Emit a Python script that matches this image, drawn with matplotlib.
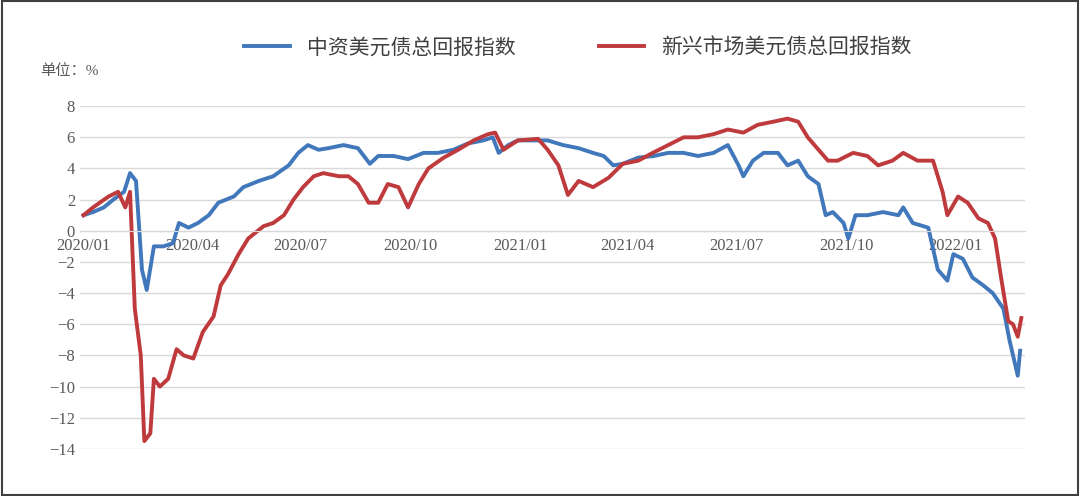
import matplotlib
matplotlib.use("Agg")
import matplotlib.pyplot as plt
import matplotlib.dates as mdates
import pandas as pd
from matplotlib.patches import Rectangle

plt.rcParams["font.family"] = ["Liberation Serif", "Noto Sans CJK SC", "DejaVu Sans"]

base = pd.Timestamp("2020-01-01")

# days since 2020-01-01, index value (%)
cn_days = [0, 8, 17, 25, 34, 39, 44, 49, 53, 59, 67, 75, 80, 88, 96, 105, 113, 126, 134, 147,
           159, 172, 180, 188, 197, 205, 218, 230, 240, 247, 260, 272, 285, 297, 310, 322, 335,
           343, 348, 356, 364, 377, 389, 402, 415, 427, 436, 444, 452, 465, 478, 490, 503, 515,
           528, 540, 549, 553, 561, 570, 582, 590, 599, 607, 616, 622, 628, 637, 641, 647, 657,
           670, 683, 687, 695, 708, 716, 724, 729, 737, 745, 754, 762, 771, 776, 783, 785]
cn_vals = [1.0, 1.2, 1.5, 2.0, 2.5, 3.7, 3.2, -2.5, -3.8, -1.0, -1.0, -0.8, 0.5, 0.2, 0.5, 1.0,
           1.8, 2.2, 2.8, 3.2, 3.5, 4.2, 5.0, 5.5, 5.2, 5.3, 5.5, 5.3, 4.3, 4.8, 4.8, 4.6, 5.0,
           5.0, 5.2, 5.6, 5.8, 6.0, 5.0, 5.5, 5.8, 5.8, 5.8, 5.5, 5.3, 5.0, 4.8, 4.2, 4.3, 4.7,
           4.8, 5.0, 5.0, 4.8, 5.0, 5.5, 4.2, 3.5, 4.5, 5.0, 5.0, 4.2, 4.5, 3.5, 3.0, 1.0, 1.2,
           0.5, -0.5, 1.0, 1.0, 1.2, 1.0, 1.5, 0.5, 0.2, -2.5, -3.2, -1.5, -1.8, -3.0, -3.5,
           -4.0, -5.0, -7.0, -9.3, -7.7]

em_days = [0, 8, 21, 29, 35, 39, 43, 48, 51, 56, 59, 64, 71, 78, 84, 92, 100, 109, 115, 121,
           130, 138, 151, 159, 168, 176, 184, 193, 201, 214, 222, 230, 239, 247, 255, 264, 272,
           281, 289, 302, 314, 327, 339, 345, 352, 364, 381, 389, 398, 406, 415, 427, 440, 452,
           465, 477, 490, 503, 515, 528, 540, 553, 565, 578, 590, 599, 607, 616, 624, 632, 645,
           657, 666, 678, 687, 699, 712, 720, 724, 733, 741, 750, 758, 764, 769, 775, 779, 783, 786]
em_vals = [1.0, 1.5, 2.2, 2.5, 1.5, 2.5, -5.0, -8.0, -13.5, -13.0, -9.5, -10.0, -9.5, -7.6,
           -8.0, -8.2, -6.5, -5.5, -3.5, -2.8, -1.5, -0.5, 0.3, 0.5, 1.0, 2.0, 2.8, 3.5, 3.7,
           3.5, 3.5, 3.0, 1.8, 1.8, 3.0, 2.8, 1.5, 3.0, 4.0, 4.7, 5.2, 5.8, 6.2, 6.3, 5.2, 5.8,
           5.9, 5.2, 4.2, 2.3, 3.2, 2.8, 3.4, 4.3, 4.5, 5.0, 5.5, 6.0, 6.0, 6.2, 6.5, 6.3, 6.8,
           7.0, 7.2, 7.0, 6.0, 5.2, 4.5, 4.5, 5.0, 4.8, 4.2, 4.5, 5.0, 4.5, 4.5, 2.5, 1.0, 2.2,
           1.8, 0.8, 0.5, -0.5, -3.0, -5.8, -6.0, -6.8, -5.6]

labels = ["中资美元债总回报指数", "新兴市场美元债总回报指数"]
colors = ["#4177bb", "#bf3a3c"]

fig = plt.figure(figsize=(10.8, 4.96), dpi=100)
ax = fig.add_axes([0.074, 0.095, 0.875, 0.691])

for days, vals, lab, c in [(cn_days, cn_vals, labels[0], colors[0]),
                           (em_days, em_vals, labels[1], colors[1])]:
    x = base + pd.to_timedelta(days, unit="D")
    ax.plot(x, vals, color=c, lw=2.8, label=lab)

ax.set_ylim(-14, 8)
ax.set_yticks(range(-14, 9, 2))
ax.set_xlim(base - pd.Timedelta(days=3), base + pd.Timedelta(days=789))
ax.xaxis.set_major_locator(mdates.MonthLocator(bymonth=[1, 4, 7, 10]))
ax.xaxis.set_major_formatter(mdates.DateFormatter("%Y/%m"))
ax.grid(axis="y", color="#d9d9d9", lw=1)
ax.set_axisbelow(True)
for s in ["top", "right", "left"]:
    ax.spines[s].set_visible(False)
ax.spines["bottom"].set_position(("data", 0))
ax.spines["bottom"].set_color("#d9d9d9")
ax.tick_params(axis="both", length=0, labelsize=12, colors="#595959")
ax.tick_params(axis="x", pad=5)

fig.text(0.037, 0.848, "单位：%", fontsize=11, color="#595959")
fig.legend(loc="upper center", bbox_to_anchor=(0.535, 0.96), ncol=2, frameon=False,
           fontsize=15, handlelength=2.2, columnspacing=4, labelcolor="#404040")
fig.patches.append(Rectangle((0.002, 0.003), 0.996, 0.994, transform=fig.transFigure,
                             fill=False, ec="#404040", lw=1.5))

fig.savefig("out.png", dpi=100)
